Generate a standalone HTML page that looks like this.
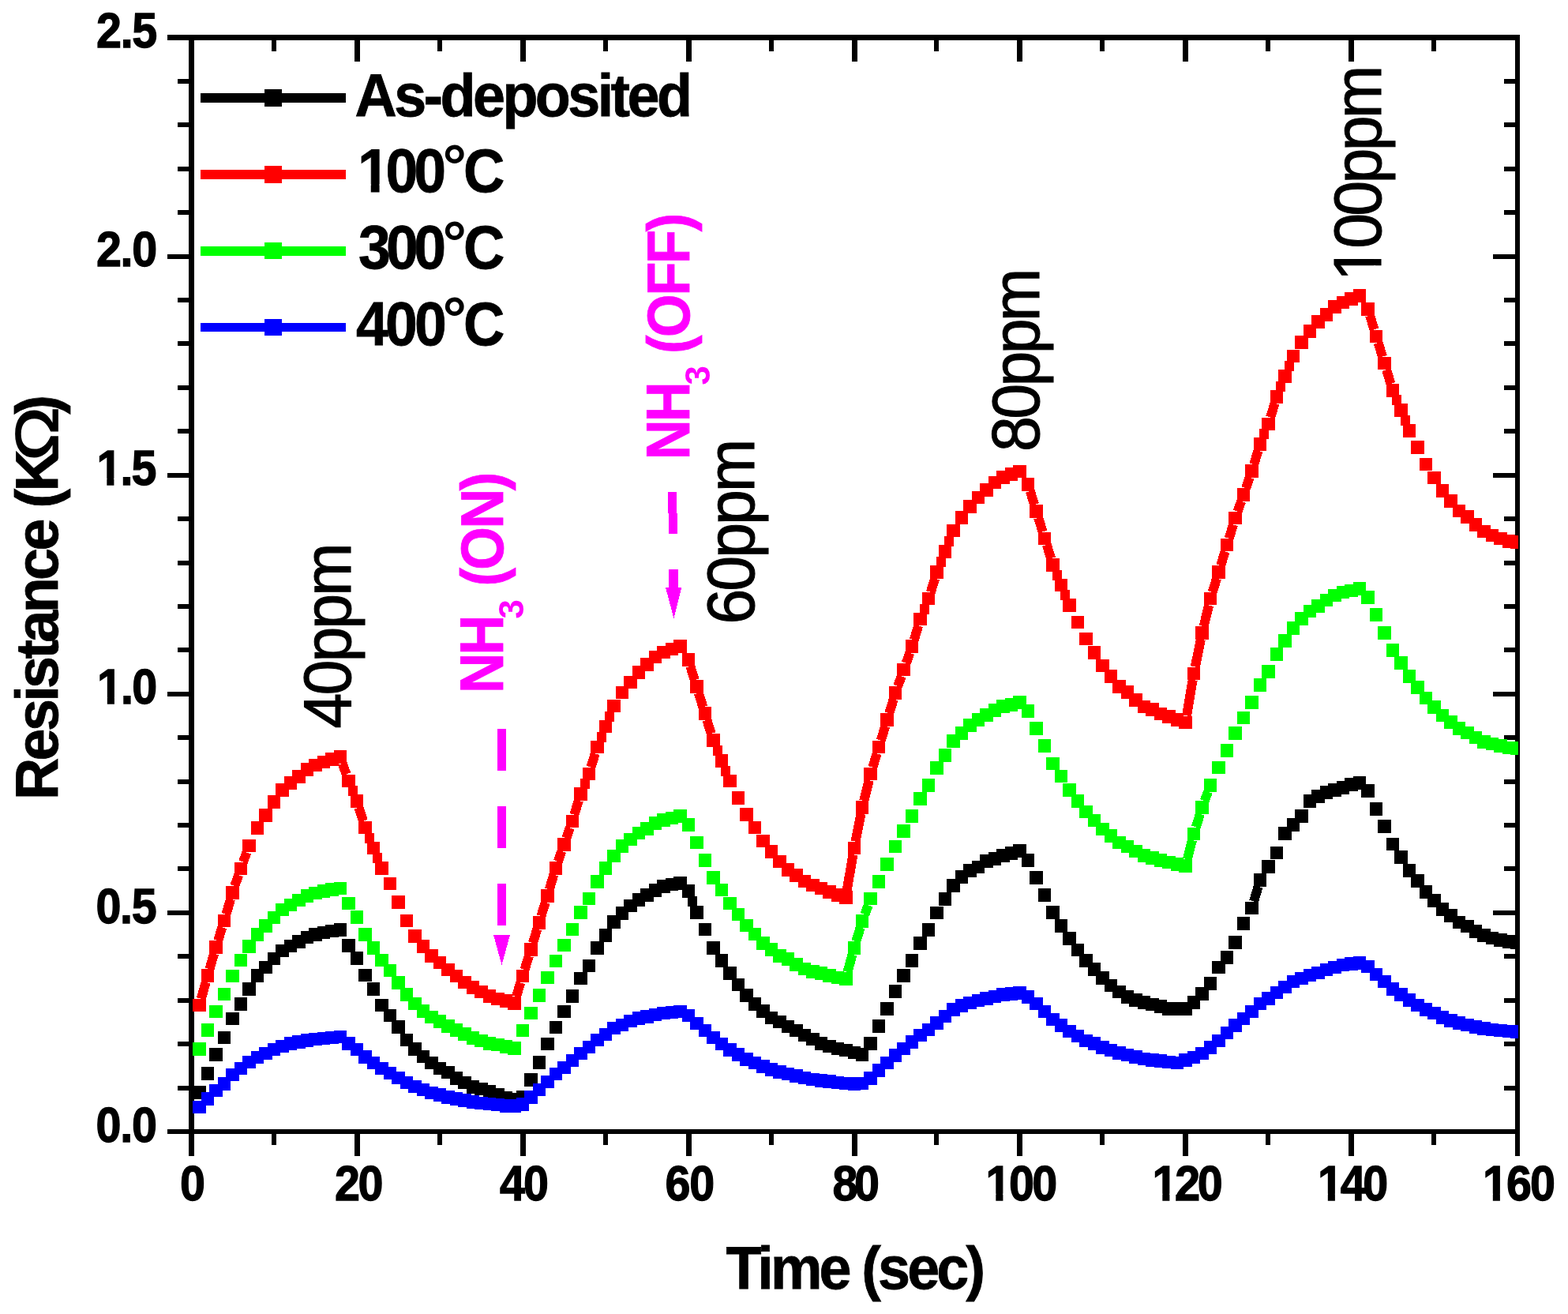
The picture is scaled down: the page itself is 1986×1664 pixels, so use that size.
<!DOCTYPE html>
<html lang="en"><head><meta charset="utf-8"><title>Resistance vs Time</title>
<style>html,body{margin:0;padding:0;background:#fff}body{width:1986px;height:1664px;overflow:hidden}svg{display:block}text{font-family:"Liberation Sans",sans-serif}</style></head><body>
<svg width="1986" height="1664" viewBox="0 0 1986 1664">
<rect x="0" y="0" width="1986" height="1664" fill="#fff"/>
<defs><clipPath id="pc"><rect x="239" y="44" width="1684" height="1392"/></clipPath></defs>
<g shape-rendering="crispEdges">
<rect x="239" y="44" width="7" height="1392" fill="#000"/>
<rect x="1919" y="44" width="6" height="1392" fill="#000"/>
<rect x="239" y="44" width="1686" height="7" fill="#000"/>
<rect x="239" y="1430" width="1686" height="6" fill="#000"/>
<rect x="239" y="1436" width="7" height="28" fill="#000"/>
<rect x="239" y="51" width="7" height="27" fill="#000"/>
<rect x="344" y="1436" width="6" height="14" fill="#000"/>
<rect x="344" y="51" width="6" height="14" fill="#000"/>
<rect x="449" y="1436" width="7" height="28" fill="#000"/>
<rect x="449" y="51" width="7" height="27" fill="#000"/>
<rect x="554" y="1436" width="6" height="14" fill="#000"/>
<rect x="554" y="51" width="6" height="14" fill="#000"/>
<rect x="659" y="1436" width="7" height="28" fill="#000"/>
<rect x="659" y="51" width="7" height="27" fill="#000"/>
<rect x="764" y="1436" width="6" height="14" fill="#000"/>
<rect x="764" y="51" width="6" height="14" fill="#000"/>
<rect x="869" y="1436" width="7" height="28" fill="#000"/>
<rect x="869" y="51" width="7" height="27" fill="#000"/>
<rect x="974" y="1436" width="6" height="14" fill="#000"/>
<rect x="974" y="51" width="6" height="14" fill="#000"/>
<rect x="1079" y="1436" width="7" height="28" fill="#000"/>
<rect x="1079" y="51" width="7" height="27" fill="#000"/>
<rect x="1183" y="1436" width="6" height="14" fill="#000"/>
<rect x="1183" y="51" width="6" height="14" fill="#000"/>
<rect x="1288" y="1436" width="7" height="28" fill="#000"/>
<rect x="1288" y="51" width="7" height="27" fill="#000"/>
<rect x="1393" y="1436" width="6" height="14" fill="#000"/>
<rect x="1393" y="51" width="6" height="14" fill="#000"/>
<rect x="1498" y="1436" width="7" height="28" fill="#000"/>
<rect x="1498" y="51" width="7" height="27" fill="#000"/>
<rect x="1603" y="1436" width="6" height="14" fill="#000"/>
<rect x="1603" y="51" width="6" height="14" fill="#000"/>
<rect x="1708" y="1436" width="7" height="28" fill="#000"/>
<rect x="1708" y="51" width="7" height="27" fill="#000"/>
<rect x="1813" y="1436" width="6" height="14" fill="#000"/>
<rect x="1813" y="51" width="6" height="14" fill="#000"/>
<rect x="1919" y="1436" width="6" height="28" fill="#000"/>
<rect x="1919" y="51" width="6" height="27" fill="#000"/>
<rect x="212" y="1430" width="27" height="6" fill="#000"/>
<rect x="1891" y="1430" width="28" height="6" fill="#000"/>
<rect x="225" y="1375" width="14" height="6" fill="#000"/>
<rect x="1905" y="1375" width="14" height="6" fill="#000"/>
<rect x="225" y="1319" width="14" height="6" fill="#000"/>
<rect x="1905" y="1319" width="14" height="6" fill="#000"/>
<rect x="225" y="1264" width="14" height="6" fill="#000"/>
<rect x="1905" y="1264" width="14" height="6" fill="#000"/>
<rect x="225" y="1208" width="14" height="6" fill="#000"/>
<rect x="1905" y="1208" width="14" height="6" fill="#000"/>
<rect x="212" y="1153" width="27" height="6" fill="#000"/>
<rect x="1891" y="1153" width="28" height="6" fill="#000"/>
<rect x="225" y="1097" width="14" height="6" fill="#000"/>
<rect x="1905" y="1097" width="14" height="6" fill="#000"/>
<rect x="225" y="1042" width="14" height="6" fill="#000"/>
<rect x="1905" y="1042" width="14" height="6" fill="#000"/>
<rect x="225" y="987" width="14" height="6" fill="#000"/>
<rect x="1905" y="987" width="14" height="6" fill="#000"/>
<rect x="225" y="931" width="14" height="6" fill="#000"/>
<rect x="1905" y="931" width="14" height="6" fill="#000"/>
<rect x="212" y="876" width="27" height="6" fill="#000"/>
<rect x="1891" y="876" width="28" height="6" fill="#000"/>
<rect x="225" y="820" width="14" height="6" fill="#000"/>
<rect x="1905" y="820" width="14" height="6" fill="#000"/>
<rect x="225" y="765" width="14" height="6" fill="#000"/>
<rect x="1905" y="765" width="14" height="6" fill="#000"/>
<rect x="225" y="710" width="14" height="6" fill="#000"/>
<rect x="1905" y="710" width="14" height="6" fill="#000"/>
<rect x="225" y="654" width="14" height="6" fill="#000"/>
<rect x="1905" y="654" width="14" height="6" fill="#000"/>
<rect x="212" y="599" width="27" height="6" fill="#000"/>
<rect x="1891" y="599" width="28" height="6" fill="#000"/>
<rect x="225" y="543" width="14" height="6" fill="#000"/>
<rect x="1905" y="543" width="14" height="6" fill="#000"/>
<rect x="225" y="488" width="14" height="6" fill="#000"/>
<rect x="1905" y="488" width="14" height="6" fill="#000"/>
<rect x="225" y="432" width="14" height="6" fill="#000"/>
<rect x="1905" y="432" width="14" height="6" fill="#000"/>
<rect x="225" y="377" width="14" height="6" fill="#000"/>
<rect x="1905" y="377" width="14" height="6" fill="#000"/>
<rect x="212" y="322" width="27" height="6" fill="#000"/>
<rect x="1891" y="322" width="28" height="6" fill="#000"/>
<rect x="225" y="266" width="14" height="6" fill="#000"/>
<rect x="1905" y="266" width="14" height="6" fill="#000"/>
<rect x="225" y="211" width="14" height="6" fill="#000"/>
<rect x="1905" y="211" width="14" height="6" fill="#000"/>
<rect x="225" y="155" width="14" height="6" fill="#000"/>
<rect x="1905" y="155" width="14" height="6" fill="#000"/>
<rect x="225" y="100" width="14" height="6" fill="#000"/>
<rect x="1905" y="100" width="14" height="6" fill="#000"/>
<rect x="212" y="44" width="27" height="7" fill="#000"/>
<rect x="1891" y="44" width="28" height="7" fill="#000"/>
</g>
<g clip-path="url(#pc)" shape-rendering="crispEdges">
<path d="M1588.1 1141.5L1593.6 1122.7" stroke="#000000" stroke-width="12" stroke-linecap="butt" fill="none"/>
<path d="M871 1135h12v13h-12zM244 1375h17v17h-17zM255 1351h16v17h-16zM265 1327h17v17h-17zM276 1306h16v16h-16zM286 1282h17v16h-17zM297 1263h16v17h-16zM307 1244h17v17h-17zM318 1227h16v17h-16zM328 1217h17v16h-17zM339 1206h16v16h-16zM349 1196h17v16h-17zM360 1190h16v16h-16zM370 1184h17v17h-17zM381 1179h16v16h-16zM391 1175h17v17h-17zM402 1173h16v16h-16zM412 1171h17v16h-17zM423 1169h16v17h-16zM433 1189h17v17h-17zM444 1205h16v17h-16zM454 1227h17v16h-17zM465 1244h16v17h-16zM475 1265h17v16h-17zM486 1278h16v16h-16zM496 1292h17v17h-17zM507 1309h16v16h-16zM517 1320h17v17h-17zM528 1330h16v16h-16zM538 1338h17v16h-17zM549 1345h16v16h-16zM559 1350h17v16h-17zM570 1357h16v17h-16zM580 1363h17v16h-17zM591 1368h16v17h-16zM601 1371h17v16h-17zM612 1374h16v16h-16zM622 1378h17v16h-17zM633 1382h16v16h-16zM643 1384h17v17h-17zM654 1381h16v17h-16zM664 1359h17v17h-17zM675 1337h16v17h-16zM685 1314h17v16h-17zM696 1293h16v16h-16zM706 1273h17v16h-17zM717 1253h16v17h-16zM727 1231h17v16h-17zM738 1215h16v16h-16zM748 1192h17v17h-17zM759 1176h16v17h-16zM769 1159h17v17h-17zM780 1148h16v17h-16zM790 1139h17v16h-17zM801 1131h16v17h-16zM811 1125h17v17h-17zM822 1119h16v17h-16zM832 1114h17v17h-17zM843 1112h16v16h-16zM853 1110h17v17h-17zM864 1120h16v17h-16zM874 1147h17v17h-17zM885 1169h16v16h-16zM895 1192h17v17h-17zM906 1208h16v17h-16zM916 1224h17v17h-17zM927 1239h16v16h-16zM937 1252h17v17h-17zM948 1263h16v17h-16zM958 1272h17v17h-17zM969 1281h16v16h-16zM979 1286h17v16h-17zM990 1292h16v16h-16zM1000 1297h17v16h-17zM1011 1303h16v16h-16zM1021 1308h17v16h-17zM1032 1313h16v17h-16zM1042 1317h17v16h-17zM1053 1320h16v16h-16zM1063 1322h17v16h-17zM1074 1325h16v16h-16zM1084 1327h16v17h-16zM1094 1313h17v17h-17zM1105 1291h16v17h-16zM1115 1269h17v17h-17zM1126 1247h16v17h-16zM1136 1227h17v17h-17zM1147 1208h16v17h-16zM1157 1186h17v17h-17zM1168 1169h16v17h-16zM1178 1148h17v16h-17zM1189 1130h16v17h-16zM1199 1113h17v17h-17zM1210 1102h16v17h-16zM1220 1094h17v17h-17zM1231 1090h16v16h-16zM1241 1082h17v17h-17zM1252 1079h16v17h-16zM1262 1075h17v17h-17zM1273 1072h16v17h-16zM1283 1069h17v17h-17zM1294 1081h16v17h-16zM1304 1103h17v17h-17zM1315 1125h16v17h-16zM1325 1147h17v17h-17zM1336 1164h16v17h-16zM1346 1180h17v17h-17zM1357 1195h16v16h-16zM1367 1208h17v17h-17zM1378 1219h16v17h-16zM1388 1230h17v17h-17zM1399 1240h16v16h-16zM1409 1248h17v16h-17zM1420 1254h16v17h-16zM1430 1258h17v17h-17zM1441 1261h16v17h-16zM1451 1264h17v16h-17zM1462 1266h16v17h-16zM1472 1269h17v17h-17zM1483 1269h16v17h-16zM1493 1269h17v17h-17zM1504 1261h16v17h-16zM1514 1250h17v17h-17zM1525 1237h16v17h-16zM1535 1217h17v16h-17zM1546 1204h16v17h-16zM1556 1185h17v17h-17zM1567 1161h16v17h-16zM1577 1142h17v16h-17zM1588 1106h16v17h-16zM1598 1089h17v17h-17zM1609 1072h16v16h-16zM1619 1047h17v17h-17zM1630 1036h16v17h-16zM1640 1025h17v17h-17zM1651 1006h16v17h-16zM1661 1000h17v17h-17zM1672 995h16v17h-16zM1682 992h17v17h-17zM1693 989h16v17h-16zM1703 985h17v17h-17zM1714 983h16v17h-16zM1724 993h17v17h-17zM1735 1016h16v17h-16zM1745 1038h17v17h-17zM1756 1061h16v16h-16zM1766 1077h17v17h-17zM1777 1094h16v17h-16zM1787 1107h17v17h-17zM1798 1121h16v17h-16zM1808 1132h17v17h-17zM1819 1143h16v17h-16zM1829 1151h17v17h-17zM1840 1160h16v16h-16zM1850 1165h17v16h-17zM1861 1171h16v17h-16zM1871 1176h17v17h-17zM1882 1180h16v16h-16zM1892 1182h17v17h-17zM1903 1184h16v17h-16zM1913 1185h17v17h-17z" fill="#000000"/>
<path d="M254.8 1264.8L260.7 1243.9M265.4 1227.3L271.1 1207.7M276.1 1191.1L281.4 1174.4M286.4 1157.8L292.1 1138.6M297.3 1122.0L302.1 1108.1M308.0 1091.5L312.4 1079.5M433.8 966.8L438.6 980.5M454.5 1022.6L459.9 1039.8M653.9 1262.1L659.3 1244.5M664.5 1227.9L669.8 1210.7M674.9 1194.1L680.3 1176.7M685.4 1160.1L690.8 1142.8M695.8 1126.2L701.4 1107.6M706.8 1091.0L711.4 1077.9M717.3 1061.3L721.9 1048.3M727.4 1031.7L732.8 1013.7M748.4 971.7L753.8 954.3M874.4 843.9L879.7 861.1M884.9 877.7L890.3 895.2M895.4 911.8L900.7 929.0M1072.6 1128.2L1080.4 1082.2M1083.4 1065.6L1090.6 1030.6M1094.3 1014.0L1100.7 988.3M1105.3 971.7L1110.7 954.3M1115.8 937.7L1121.2 919.8M1126.3 903.2L1131.7 885.6M1137.2 869.0L1141.7 856.4M1147.7 839.8L1152.3 826.8M1157.8 810.2L1163.2 792.3M1178.8 749.9L1184.1 732.7M1304.8 621.9L1310.1 639.1M1315.2 655.7L1320.6 673.4M1325.8 690.0L1331.1 707.2M1503.0 906.4L1510.7 861.0M1513.8 844.4L1520.9 809.7M1524.6 793.1L1531.1 766.5M1535.7 749.9L1541.0 732.7M1546.2 716.1L1551.6 698.4M1556.7 681.8L1562.0 664.4M1567.5 647.8L1572.2 634.7M1578.0 618.1L1582.7 604.7M1588.2 588.1L1593.5 570.7M1609.1 528.5L1614.6 510.8M1735.1 399.7L1740.5 417.4M1745.6 434.0L1751.0 451.6M1756.1 468.2L1761.5 486.0" stroke="#ff0000" stroke-width="12" stroke-linecap="butt" fill="none"/>
<path d="M441 995h12v13h-12zM462 1055h12v13h-12zM472 1080h12v13h-12zM735 986h12v13h-12zM756 927h12v13h-12zM766 901h12v13h-12zM903 944h12v13h-12zM913 970h12v13h-12zM1165 765h12v13h-12zM1186 705h12v13h-12zM1196 679h12v13h-12zM1333 722h12v13h-12zM1343 747h12v13h-12zM1595 543h12v13h-12zM1616 483h12v13h-12zM1627 457h12v13h-12zM1763 500h12v13h-12zM1774 526h12v13h-12zM244 1265h17v16h-17zM255 1227h16v17h-16zM265 1191h17v17h-17zM276 1158h16v16h-16zM286 1122h17v17h-17zM297 1092h16v16h-16zM307 1063h17v16h-17zM318 1040h16v17h-16zM328 1024h17v17h-17zM339 1007h16v17h-16zM349 992h17v17h-17zM360 983h16v17h-16zM370 975h17v17h-17zM381 966h16v17h-16zM391 961h17v16h-17zM402 957h16v16h-16zM412 953h17v17h-17zM423 950h16v17h-16zM433 981h17v16h-17zM444 1006h16v17h-16zM454 1040h17v16h-17zM465 1066h16v16h-16zM475 1091h17v17h-17zM486 1111h16v16h-16zM496 1134h17v17h-17zM507 1158h16v16h-16zM517 1177h17v17h-17zM528 1190h16v17h-16zM538 1202h17v17h-17zM549 1211h16v16h-16zM559 1220h17v16h-17zM570 1228h16v16h-16zM580 1236h17v16h-17zM591 1242h16v17h-16zM601 1248h17v16h-17zM612 1253h16v17h-16zM622 1257h17v16h-17zM633 1259h16v17h-16zM643 1262h17v17h-17zM654 1228h16v16h-16zM664 1194h17v17h-17zM675 1160h16v17h-16zM685 1126h17v17h-17zM696 1091h16v17h-16zM706 1061h17v17h-17zM717 1032h16v16h-16zM727 997h17v17h-17zM738 972h16v16h-16zM748 938h17v16h-17zM759 912h16v16h-16zM769 886h17v16h-17zM780 869h16v16h-16zM790 856h17v16h-17zM801 843h16v17h-16zM811 833h17v17h-17zM822 824h16v16h-16zM832 818h17v16h-17zM843 814h16v16h-16zM853 810h17v17h-17zM864 827h16v17h-16zM874 861h17v17h-17zM885 895h16v17h-16zM895 929h17v17h-17zM906 955h16v17h-16zM916 981h17v16h-17zM927 1002h16v17h-16zM937 1023h17v17h-17zM948 1040h16v16h-16zM958 1057h17v16h-17zM969 1070h16v17h-16zM979 1083h17v16h-17zM990 1093h16v17h-16zM1000 1100h17v17h-17zM1011 1108h16v16h-16zM1021 1113h17v16h-17zM1032 1117h16v16h-16zM1042 1121h17v17h-17zM1053 1125h16v17h-16zM1063 1128h17v17h-17zM1074 1066h16v16h-16zM1084 1014h16v17h-16zM1094 972h17v16h-17zM1105 938h16v16h-16zM1115 903h17v17h-17zM1126 869h16v17h-16zM1136 840h17v16h-17zM1147 810h16v17h-16zM1157 776h17v16h-17zM1168 750h16v16h-16zM1178 716h17v17h-17zM1189 690h16v17h-16zM1199 664h17v16h-17zM1210 647h16v17h-16zM1220 633h17v17h-17zM1231 622h16v16h-16zM1241 612h17v17h-17zM1252 603h16v16h-16zM1262 596h17v17h-17zM1273 592h16v17h-16zM1283 589h17v16h-17zM1294 605h16v17h-16zM1304 639h17v17h-17zM1315 674h16v16h-16zM1325 707h17v17h-17zM1336 733h16v16h-16zM1346 758h17v17h-17zM1357 780h16v16h-16zM1367 801h17v16h-17zM1378 818h16v17h-16zM1388 835h17v16h-17zM1399 848h16v17h-16zM1409 861h17v17h-17zM1420 868h16v17h-16zM1430 878h17v17h-17zM1441 887h16v16h-16zM1451 890h17v17h-17zM1462 896h16v16h-16zM1472 899h17v17h-17zM1483 903h16v17h-16zM1493 907h17v16h-17zM1504 845h16v16h-16zM1514 793h17v17h-17zM1525 750h16v16h-16zM1535 716h17v17h-17zM1546 682h16v16h-16zM1556 648h17v16h-17zM1567 618h16v17h-16zM1577 588h17v17h-17zM1588 554h16v17h-16zM1598 529h17v16h-17zM1609 494h16v17h-16zM1619 468h17v17h-17zM1630 443h16v16h-16zM1640 425h17v17h-17zM1651 411h16v17h-16zM1661 399h17v17h-17zM1672 390h16v17h-16zM1682 380h17v17h-17zM1693 375h16v16h-16zM1703 370h17v17h-17zM1714 366h16v17h-16zM1724 383h17v17h-17zM1735 418h16v16h-16zM1745 452h17v16h-17zM1756 486h16v17h-16zM1766 511h17v17h-17zM1777 537h16v17h-16zM1787 558h17v17h-17zM1798 580h16v16h-16zM1808 597h17v16h-17zM1819 613h16v17h-16zM1829 626h17v17h-17zM1840 639h16v16h-16zM1850 646h17v17h-17zM1861 656h16v17h-16zM1871 665h17v16h-17zM1882 670h16v16h-16zM1892 674h17v16h-17zM1903 677h16v17h-16zM1913 678h17v17h-17z" fill="#ff0000"/>
<path d="M1073.5 1231.0L1079.5 1208.7M1084.3 1192.1L1089.7 1174.6M1095.3 1158.0L1099.7 1146.4M1503.8 1088.1L1510.0 1064.0M1514.7 1047.4L1520.0 1030.8M1525.7 1014.2L1530.0 1002.6" stroke="#00ff00" stroke-width="12" stroke-linecap="butt" fill="none"/>
<path d="M244 1320h17v17h-17zM255 1296h16v17h-16zM265 1273h17v16h-17zM276 1251h16v16h-16zM286 1228h17v16h-17zM297 1208h16v16h-16zM307 1190h17v17h-17zM318 1175h16v17h-16zM328 1164h17v17h-17zM339 1154h16v16h-16zM349 1144h17v16h-17zM360 1138h16v16h-16zM370 1132h17v16h-17zM381 1126h16v17h-16zM391 1123h17v16h-17zM402 1120h16v17h-16zM412 1118h17v17h-17zM423 1117h16v16h-16zM433 1136h17v16h-17zM444 1153h16v17h-16zM454 1175h17v17h-17zM465 1192h16v17h-16zM475 1208h17v16h-17zM486 1221h16v16h-16zM496 1236h17v17h-17zM507 1251h16v17h-16zM517 1263h17v16h-17zM528 1272h16v17h-16zM538 1280h17v16h-17zM549 1285h16v17h-16zM559 1291h17v17h-17zM570 1296h16v17h-16zM580 1301h17v17h-17zM591 1306h16v17h-16zM601 1310h17v16h-17zM612 1313h16v17h-16zM622 1315h17v16h-17zM633 1317h16v17h-16zM643 1319h17v17h-17zM654 1297h16v16h-16zM664 1275h17v16h-17zM675 1252h16v17h-16zM685 1230h17v16h-17zM696 1209h16v16h-16zM706 1189h17v16h-17zM717 1169h16v16h-16zM727 1147h17v17h-17zM738 1130h16v16h-16zM748 1108h17v17h-17zM759 1091h16v17h-16zM769 1076h17v16h-17zM780 1063h16v17h-16zM790 1055h17v16h-17zM801 1047h16v16h-16zM811 1041h17v17h-17zM822 1034h16v17h-16zM832 1030h17v17h-17zM843 1028h16v16h-16zM853 1025h17v17h-17zM864 1036h16v17h-16zM874 1059h17v16h-17zM885 1081h16v17h-16zM895 1103h17v17h-17zM906 1119h16v16h-16zM916 1136h17v16h-17zM927 1150h16v16h-16zM937 1164h17v16h-17zM948 1175h16v16h-16zM958 1186h17v17h-17zM969 1194h16v17h-16zM979 1202h17v17h-17zM990 1206h16v17h-16zM1000 1213h17v17h-17zM1011 1219h16v16h-16zM1021 1222h17v17h-17zM1032 1224h16v17h-16zM1042 1227h17v17h-17zM1053 1230h16v16h-16zM1063 1231h17v17h-17zM1074 1192h16v17h-16zM1084 1158h16v17h-16zM1094 1130h17v16h-17zM1105 1108h16v17h-16zM1115 1086h17v17h-17zM1126 1064h16v16h-16zM1136 1044h17v17h-17zM1147 1025h16v17h-16zM1157 1003h17v17h-17zM1168 986h16v17h-16zM1178 964h17v17h-17zM1189 948h16v17h-16zM1199 930h17v17h-17zM1210 920h16v17h-16zM1220 910h17v17h-17zM1231 903h16v17h-16zM1241 897h17v17h-17zM1252 891h16v17h-16zM1262 886h17v17h-17zM1273 884h16v17h-16zM1283 881h17v17h-17zM1294 892h16v17h-16zM1304 914h17v17h-17zM1315 936h16v17h-16zM1325 959h17v16h-17zM1336 975h16v16h-16zM1346 992h17v17h-17zM1357 1006h16v17h-16zM1367 1020h17v16h-17zM1378 1031h16v16h-16zM1388 1042h17v16h-17zM1399 1050h16v17h-16zM1409 1059h17v16h-17zM1420 1064h16v16h-16zM1430 1070h17v16h-17zM1441 1075h16v17h-16zM1451 1078h17v17h-17zM1462 1081h16v17h-16zM1472 1084h17v16h-17zM1483 1086h16v17h-16zM1493 1088h17v17h-17zM1504 1048h16v16h-16zM1514 1014h17v17h-17zM1525 986h16v17h-16zM1535 964h17v16h-17zM1546 942h16v17h-16zM1556 920h17v17h-17zM1567 901h16v16h-16zM1577 881h17v17h-17zM1588 859h16v17h-16zM1598 842h17v17h-17zM1609 820h16v17h-16zM1619 803h17v17h-17zM1630 787h16v17h-16zM1640 775h17v17h-17zM1651 766h16v16h-16zM1661 759h17v17h-17zM1672 752h16v16h-16zM1682 746h17v16h-17zM1693 742h16v16h-16zM1703 740h17v16h-17zM1714 737h16v17h-16zM1724 748h17v17h-17zM1735 770h16v17h-16zM1745 793h17v17h-17zM1756 815h16v17h-16zM1766 831h17v17h-17zM1777 848h16v17h-16zM1787 862h17v17h-17zM1798 876h16v16h-16zM1808 887h17v17h-17zM1819 898h16v16h-16zM1829 906h17v17h-17zM1840 914h16v17h-16zM1850 920h17v16h-17zM1861 926h16v16h-16zM1871 931h17v17h-17zM1882 934h16v16h-16zM1892 936h17v17h-17zM1903 939h16v16h-16zM1913 939h17v17h-17z" fill="#00ff00"/>
<path d="M244 1394h17v16h-17zM255 1383h16v17h-16zM265 1373h17v16h-17zM276 1364h16v17h-16zM286 1353h17v16h-17zM297 1345h16v16h-16zM307 1337h17v16h-17zM318 1331h16v16h-16zM328 1326h17v16h-17zM339 1321h16v16h-16zM349 1317h17v16h-17zM360 1313h16v17h-16zM370 1311h17v17h-17zM381 1309h16v17h-16zM391 1308h17v16h-17zM402 1307h16v16h-16zM412 1306h17v16h-17zM423 1305h16v16h-16zM433 1313h17v17h-17zM444 1321h16v16h-16zM454 1330h17v17h-17zM465 1338h16v16h-16zM475 1345h17v16h-17zM486 1351h16v16h-16zM496 1357h17v16h-17zM507 1363h16v16h-16zM517 1368h17v16h-17zM528 1372h16v16h-16zM538 1376h17v16h-17zM549 1378h16v17h-16zM559 1381h17v17h-17zM570 1383h16v17h-16zM580 1385h17v17h-17zM591 1387h16v17h-16zM601 1389h17v16h-17zM612 1390h16v16h-16zM622 1391h17v16h-17zM633 1392h16v17h-16zM643 1392h17v17h-17zM654 1390h16v17h-16zM664 1381h17v17h-17zM675 1372h16v16h-16zM685 1362h17v16h-17zM696 1352h16v16h-16zM706 1344h17v16h-17zM717 1335h16v16h-16zM727 1326h17v16h-17zM738 1318h16v16h-16zM748 1309h17v16h-17zM759 1302h16v16h-16zM769 1294h17v16h-17zM780 1290h16v16h-16zM790 1285h17v16h-17zM801 1281h16v17h-16zM811 1279h17v17h-17zM822 1277h16v16h-16zM832 1275h17v16h-17zM843 1274h16v16h-16zM853 1273h17v16h-17zM864 1278h16v16h-16zM874 1288h17v16h-17zM885 1297h16v16h-16zM895 1306h17v16h-17zM906 1314h16v16h-16zM916 1321h17v17h-17zM927 1327h16v17h-16zM937 1333h17v17h-17zM948 1338h16v16h-16zM958 1342h17v17h-17zM969 1346h16v17h-16zM979 1349h17v17h-17zM990 1352h16v16h-16zM1000 1354h17v17h-17zM1011 1357h16v16h-16zM1021 1359h17v16h-17zM1032 1360h16v17h-16zM1042 1361h17v17h-17zM1053 1363h16v16h-16zM1063 1364h17v16h-17zM1074 1364h16v17h-16zM1084 1364h16v16h-16zM1094 1357h17v17h-17zM1105 1347h16v17h-16zM1115 1338h17v16h-17zM1126 1328h16v17h-16zM1136 1320h17v16h-17zM1147 1311h16v17h-16zM1157 1303h17v16h-17zM1168 1296h16v16h-16zM1178 1287h17v17h-17zM1189 1279h16v16h-16zM1199 1270h17v17h-17zM1210 1265h16v17h-16zM1220 1262h17v16h-17zM1231 1259h16v16h-16zM1241 1256h17v17h-17zM1252 1254h16v16h-16zM1262 1251h17v17h-17zM1273 1250h16v17h-16zM1283 1249h17v17h-17zM1294 1254h16v17h-16zM1304 1263h17v16h-17zM1315 1273h16v16h-16zM1325 1283h17v16h-17zM1336 1290h16v17h-16zM1346 1298h17v16h-17zM1357 1304h16v16h-16zM1367 1310h17v16h-17zM1378 1313h16v17h-16zM1388 1318h17v17h-17zM1399 1322h16v16h-16zM1409 1325h17v17h-17zM1420 1328h16v16h-16zM1430 1330h17v17h-17zM1441 1333h16v16h-16zM1451 1334h17v17h-17zM1462 1335h16v17h-16zM1472 1337h17v16h-17zM1483 1338h16v16h-16zM1493 1334h17v17h-17zM1504 1331h16v16h-16zM1514 1326h17v16h-17zM1525 1318h16v17h-16zM1535 1310h17v16h-17zM1546 1300h16v16h-16zM1556 1290h17v17h-17zM1567 1282h16v16h-16zM1577 1273h17v16h-17zM1588 1263h16v16h-16zM1598 1256h17v17h-17zM1609 1249h16v16h-16zM1619 1242h17v16h-17zM1630 1235h16v16h-16zM1640 1231h17v16h-17zM1651 1227h16v16h-16zM1661 1224h17v16h-17zM1672 1220h16v16h-16zM1682 1217h17v16h-17zM1693 1214h16v16h-16zM1703 1212h17v17h-17zM1714 1211h16v17h-16zM1724 1216h17v16h-17zM1735 1226h16v16h-16zM1745 1235h17v16h-17zM1756 1244h16v17h-16zM1766 1251h17v17h-17zM1777 1258h16v17h-16zM1787 1265h17v16h-17zM1798 1270h16v17h-16zM1808 1275h17v16h-17zM1819 1280h16v17h-16zM1829 1284h17v17h-17zM1840 1287h16v17h-16zM1850 1290h17v16h-17zM1861 1292h16v17h-16zM1871 1294h17v17h-17zM1882 1296h16v16h-16zM1892 1297h17v16h-17zM1903 1298h16v16h-16zM1913 1298h17v17h-17z" fill="#0000ff"/>
</g>
<g shape-rendering="crispEdges">
<rect x="254" y="118" width="184" height="12" fill="#000000"/>
<rect x="335" y="113" width="22" height="22" fill="#000000"/>
<rect x="254" y="215" width="184" height="12" fill="#ff0000"/>
<rect x="335" y="210" width="22" height="22" fill="#ff0000"/>
<rect x="254" y="312" width="184" height="12" fill="#00ff00"/>
<rect x="335" y="307" width="22" height="21" fill="#00ff00"/>
<rect x="254" y="409" width="184" height="11" fill="#0000ff"/>
<rect x="335" y="404" width="22" height="21" fill="#0000ff"/>
</g>
<g shape-rendering="crispEdges" fill="#ff00ff">
<rect x="630" y="923" width="11" height="53" fill="#ff00ff"/>
<rect x="630" y="1021" width="11" height="53" fill="#ff00ff"/>
<rect x="630" y="1119" width="11" height="53" fill="#ff00ff"/>
<polygon points="625,1184 646,1184 635.5,1222"/>
<rect x="846" y="623" width="11" height="27" fill="#ff00ff"/>
<rect x="847" y="650" width="11" height="26" fill="#ff00ff"/>
<rect x="847" y="721" width="12" height="24" fill="#ff00ff"/>
<polygon points="843,744 863.2,744 853.4,783"/>
</g>
<g><text transform="translate(121.50 1445.70) scale(0.92 1)" font-size="62.5" font-weight="bold" letter-spacing="-1.304" stroke="#000" stroke-width="1.3" stroke-linejoin="miter">0.0</text></g>
<g><text transform="translate(121.50 1168.55) scale(0.92 1)" font-size="62.5" font-weight="bold" letter-spacing="-1.522" stroke="#000" stroke-width="1.3" stroke-linejoin="miter">0.5</text></g>
<g><text transform="translate(123.00 891.40) scale(0.92 1)" font-size="62.5" font-weight="bold" letter-spacing="-2.065" stroke="#000" stroke-width="1.3" stroke-linejoin="miter">1.0</text><rect transform="translate(123.00 891.40) scale(0.92 1)" x="2.07" y="-8.40" width="11.87" height="10.42" fill="#fff"/><rect transform="translate(123.00 891.40) scale(0.92 1)" x="23.81" y="-8.40" width="10.43" height="10.42" fill="#fff"/></g>
<g><text transform="translate(122.50 614.25) scale(0.92 1)" font-size="62.5" font-weight="bold" letter-spacing="-2.174" stroke="#000" stroke-width="1.3" stroke-linejoin="miter">1.5</text><rect transform="translate(122.50 614.25) scale(0.92 1)" x="2.07" y="-8.40" width="11.87" height="10.42" fill="#fff"/><rect transform="translate(122.50 614.25) scale(0.92 1)" x="23.81" y="-8.40" width="10.43" height="10.42" fill="#fff"/></g>
<g><text transform="translate(122.00 337.10) scale(0.92 1)" font-size="62.5" font-weight="bold" letter-spacing="-1.522" stroke="#000" stroke-width="1.3" stroke-linejoin="miter">2.0</text></g>
<g><text transform="translate(122.00 59.95) scale(0.92 1)" font-size="62.5" font-weight="bold" letter-spacing="-1.413" stroke="#000" stroke-width="1.3" stroke-linejoin="miter">2.5</text></g>
<g><text transform="translate(228.00 1520.00) scale(0.92 1)" font-size="62.5" font-weight="bold" stroke="#000" stroke-width="1.3" stroke-linejoin="miter">0</text></g>
<g><text transform="translate(424.00 1520.00) scale(0.92 1)" font-size="62.5" font-weight="bold" letter-spacing="-2.609" stroke="#000" stroke-width="1.3" stroke-linejoin="miter">20</text></g>
<g><text transform="translate(633.00 1520.00) scale(0.92 1)" font-size="62.5" font-weight="bold" letter-spacing="-2.174" stroke="#000" stroke-width="1.3" stroke-linejoin="miter">40</text></g>
<g><text transform="translate(842.50 1520.00) scale(0.92 1)" font-size="62.5" font-weight="bold" letter-spacing="-1.304" stroke="#000" stroke-width="1.3" stroke-linejoin="miter">60</text></g>
<g><text transform="translate(1054.50 1520.00) scale(0.92 1)" font-size="62.5" font-weight="bold" letter-spacing="-5.000" stroke="#000" stroke-width="1.3" stroke-linejoin="miter">80</text></g>
<g><text transform="translate(1248.50 1520.00) scale(0.92 1)" font-size="62.5" font-weight="bold" letter-spacing="-2.826" stroke="#000" stroke-width="1.3" stroke-linejoin="miter">100</text><rect transform="translate(1248.50 1520.00) scale(0.92 1)" x="2.07" y="-8.40" width="11.87" height="10.42" fill="#fff"/><rect transform="translate(1248.50 1520.00) scale(0.92 1)" x="23.81" y="-8.40" width="10.43" height="10.42" fill="#fff"/></g>
<g><text transform="translate(1459.50 1520.00) scale(0.92 1)" font-size="62.5" font-weight="bold" letter-spacing="-3.587" stroke="#000" stroke-width="1.3" stroke-linejoin="miter">120</text><rect transform="translate(1459.50 1520.00) scale(0.92 1)" x="2.07" y="-8.40" width="11.87" height="10.42" fill="#fff"/><rect transform="translate(1459.50 1520.00) scale(0.92 1)" x="23.81" y="-8.40" width="8.51" height="10.42" fill="#fff"/></g>
<g><text transform="translate(1669.00 1520.00) scale(0.92 1)" font-size="62.5" font-weight="bold" letter-spacing="-3.587" stroke="#000" stroke-width="1.3" stroke-linejoin="miter">140</text><rect transform="translate(1669.00 1520.00) scale(0.92 1)" x="2.07" y="-8.40" width="11.87" height="10.42" fill="#fff"/><rect transform="translate(1669.00 1520.00) scale(0.92 1)" x="23.81" y="-8.40" width="10.43" height="10.42" fill="#fff"/></g>
<g><text transform="translate(1878.00 1520.00) scale(0.92 1)" font-size="62.5" font-weight="bold" letter-spacing="-2.174" stroke="#000" stroke-width="1.3" stroke-linejoin="miter">160</text><rect transform="translate(1878.00 1520.00) scale(0.92 1)" x="2.07" y="-8.40" width="11.87" height="10.42" fill="#fff"/><rect transform="translate(1878.00 1520.00) scale(0.92 1)" x="23.81" y="-8.40" width="10.43" height="10.42" fill="#fff"/></g>
<g><text transform="translate(919.50 1631.70) scale(0.97 1)" font-size="76" font-weight="bold" letter-spacing="-3.986" stroke="#000" stroke-width="0.8" stroke-linejoin="miter">Time (sec)</text></g>
<g><text transform="translate(72.50 1013.00) rotate(-90) scale(0.97 1)" font-size="76" font-weight="bold" letter-spacing="-3.763" stroke="#000" stroke-width="0.8" stroke-linejoin="miter">Resistance (K</text><text transform="translate(72.80 583.50) rotate(-90) scale(1.2 1)" font-size="76" stroke="#000" stroke-width="1.8" stroke-linejoin="miter">&#937;</text><text transform="translate(72.50 524.50) rotate(-90) scale(0.97 1)" font-size="76" font-weight="bold" stroke="#000" stroke-width="0.8" stroke-linejoin="miter">)</text></g>
<g><text transform="translate(449.50 146.80) scale(0.97 1)" font-size="76" font-weight="bold" letter-spacing="-3.693" stroke="#000" stroke-width="0.8" stroke-linejoin="miter">As-deposited</text></g>
<g><text transform="translate(453.00 243.30) scale(0.935 1)" font-size="78.5" font-weight="bold" letter-spacing="-5.561" stroke="#000" stroke-width="0.8" stroke-linejoin="miter">100</text><rect transform="translate(453.00 243.30) scale(0.935 1)" x="3.01" y="-10.14" width="14.91" height="12.26" fill="#fff"/><rect transform="translate(453.00 243.30) scale(0.935 1)" x="29.49" y="-10.14" width="13.51" height="12.26" fill="#fff"/><text transform="translate(560.50 237.10)" font-size="76" font-weight="bold">&#176;</text><text transform="translate(587.00 243.30) scale(0.93 1)" font-size="78" font-weight="bold" stroke="#000" stroke-width="0.8" stroke-linejoin="miter">C</text></g>
<g><text transform="translate(454.00 339.90) scale(0.935 1)" font-size="78.5" font-weight="bold" letter-spacing="-6.096" stroke="#000" stroke-width="0.8" stroke-linejoin="miter">300</text><text transform="translate(560.50 333.70)" font-size="76" font-weight="bold">&#176;</text><text transform="translate(587.00 339.90) scale(0.93 1)" font-size="78" font-weight="bold" stroke="#000" stroke-width="0.8" stroke-linejoin="miter">C</text></g>
<g><text transform="translate(451.00 436.50) scale(0.935 1)" font-size="78.5" font-weight="bold" letter-spacing="-4.064" stroke="#000" stroke-width="0.8" stroke-linejoin="miter">400</text><text transform="translate(560.50 430.30)" font-size="76" font-weight="bold">&#176;</text><text transform="translate(587.00 436.50) scale(0.93 1)" font-size="78" font-weight="bold" stroke="#000" stroke-width="0.8" stroke-linejoin="miter">C</text></g>
<g><text transform="translate(444.30 922.50) rotate(-90) scale(0.95 1)" font-size="85" letter-spacing="-3.105" stroke="#000" stroke-width="1.1" stroke-linejoin="miter">40ppm</text></g>
<g><text transform="translate(955.30 790.50) rotate(-90) scale(0.95 1)" font-size="85" letter-spacing="-3.211" stroke="#000" stroke-width="1.1" stroke-linejoin="miter">60ppm</text></g>
<g><text transform="translate(1315.50 572.00) rotate(-90) scale(0.95 1)" font-size="85" letter-spacing="-3.842" stroke="#000" stroke-width="1.1" stroke-linejoin="miter">80ppm</text></g>
<g><text transform="translate(1749.00 356.00) rotate(-90) scale(0.95 1)" font-size="85" letter-spacing="-3.916" stroke="#000" stroke-width="1.1" stroke-linejoin="miter">100ppm</text><rect transform="translate(1749.00 356.00) rotate(-90) scale(0.95 1)" x="4.26" y="-8.77" width="16.56" height="11.19" fill="#fff"/><rect transform="translate(1749.00 356.00) rotate(-90) scale(0.95 1)" x="29.44" y="-8.77" width="15.35" height="11.19" fill="#fff"/></g>
<g><text transform="translate(637.10 878.00) rotate(-90) scale(0.905 1)" font-size="78.3" font-weight="bold" fill="#ff00ff" letter-spacing="-3.315" stroke="#ff00ff" stroke-width="0.8" stroke-linejoin="miter">NH</text><text transform="translate(663.30 783.50) rotate(-90) scale(0.97 1)" font-size="45" font-weight="bold" fill="#ff00ff">3</text><text transform="translate(637.10 742.50) rotate(-90) scale(0.92 1)" font-size="76.5" font-weight="bold" fill="#ff00ff" letter-spacing="-2.826" stroke="#ff00ff" stroke-width="0.8" stroke-linejoin="miter"> (ON)</text></g>
<g><text transform="translate(872.90 582.50) rotate(-90) scale(0.905 1)" font-size="78.3" font-weight="bold" fill="#ff00ff" letter-spacing="-3.536" stroke="#ff00ff" stroke-width="0.8" stroke-linejoin="miter">NH</text><text transform="translate(899.20 487.50) rotate(-90) scale(0.97 1)" font-size="45" font-weight="bold" fill="#ff00ff">3</text><text transform="translate(872.90 448.00) rotate(-90) scale(0.92 1)" font-size="76.5" font-weight="bold" fill="#ff00ff" letter-spacing="-2.554" stroke="#ff00ff" stroke-width="0.8" stroke-linejoin="miter"> (OFF)</text></g>
</svg></body></html>
